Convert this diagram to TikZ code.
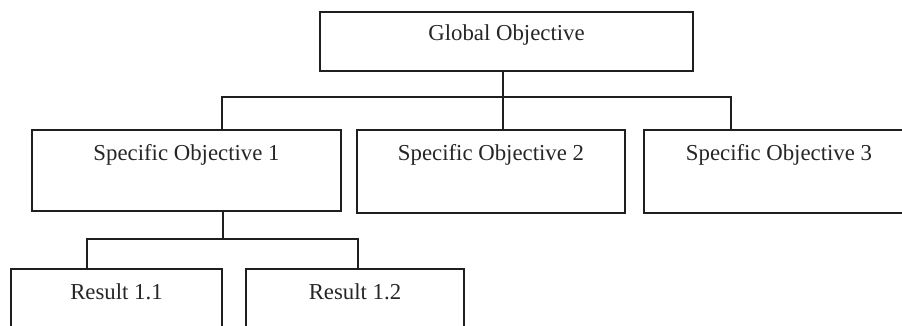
\documentclass[tikz,border=0pt]{standalone}
\usepackage{fontspec}
\setmainfont{Liberation Serif}
\begin{document}
\begin{tikzpicture}[x=1pt,y=-1pt,
  box/.style={draw=black!88, line width=1.6pt, anchor=north, inner xsep=0pt, inner ysep=0pt,
    font=\fontsize{22.8}{26}\selectfont, text=black!85},
  link/.style={draw=black!88, line width=1.6pt}]
\useasboundingbox (0,0) rectangle (902,326);
\clip (0,0) rectangle (902,326);
\node[box, minimum width=373pt, text height=29pt, text depth=30pt] (g) at (506.5,11) {Global Objective};
\node[box, minimum width=309pt, text height=31pt, text depth=50pt] (so1) at (186.5,129) {Specific Objective 1};
\node[box, minimum width=268pt, text height=31pt, text depth=52pt] (so2) at (491,129) {Specific Objective 2};
\node[box, minimum width=270pt, text height=31pt, text depth=52pt] (so3) at (779,129) {Specific Objective 3};
\node[box, minimum width=211pt, text height=31pt, text depth=80pt] (r1) at (116.5,268) {Result 1.1};
\node[box, minimum width=218pt, text height=31pt, text depth=80pt] (r2) at (355,268) {Result 1.2};
\coordinate (j1) at (503,97);
\coordinate (h1) at (222,97);
\coordinate (h3) at (731,97);
\coordinate (k) at (223,239);
\coordinate (k1) at (87,239);
\coordinate (k2) at (358,239);
\draw[link] (j1 |- g.south) -- (j1) -- (j1 |- so2.north);
\draw[link] (h1 |- so1.north) -- (h1) -- (h3) -- (h3 |- so3.north);
\draw[link] (k |- so1.south) -- (k);
\draw[link] (k1 |- r1.north) -- (k1) -- (k2) -- (k2 |- r2.north);
\end{tikzpicture}
\end{document}
